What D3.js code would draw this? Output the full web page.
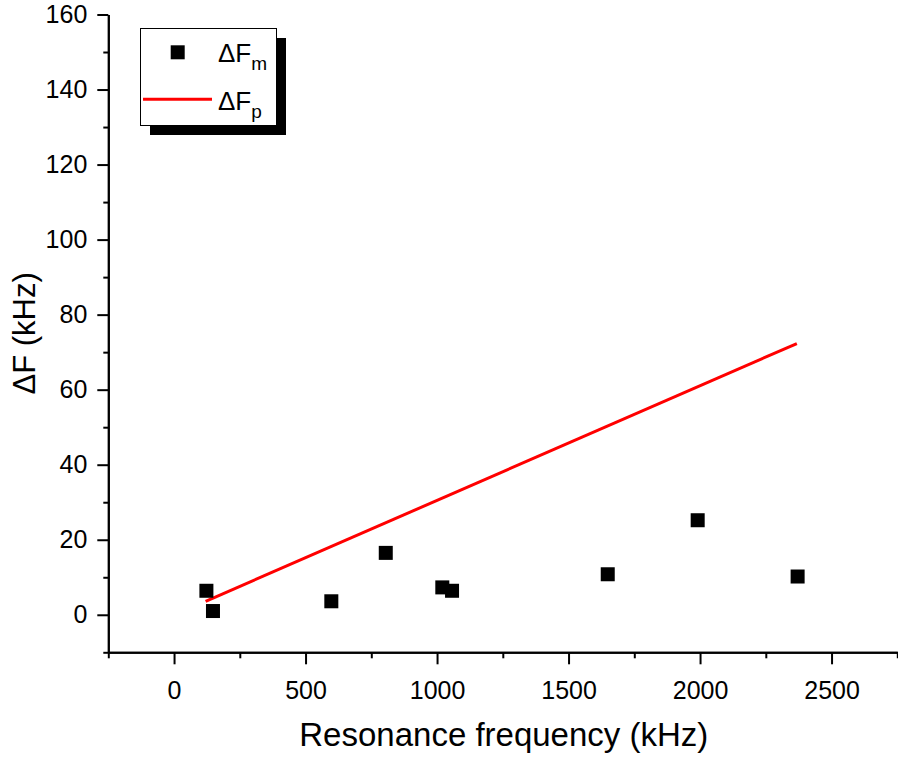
<!DOCTYPE html>
<html>
<head>
<meta charset="utf-8">
<script src="https://cdn.jsdelivr.net/npm/d3@7"></script>
<style>
  html, body { margin: 0; padding: 0; background: #fff; }
  svg text { font-family: "Liberation Sans", Arial, sans-serif; fill: #000; }
</style>
</head>
<body>
<svg id="chart" width="898" height="757"></svg>
<script>
// ---- data ----
const freqM = [123, 148, 598, 805, 1020, 1057, 1649, 1991, 2371];      // resonance frequency (kHz)
const deltaFm = [6.4, 1.0, 3.6, 16.5, 7.3, 6.4, 10.8, 25.2, 10.2];     // measured ΔF (kHz)
const freqP = [120, 2368];                                             // predicted line x (kHz)
const deltaFp = [3.6, 72.3];                                           // predicted ΔF (kHz)
const xMajorTicks = [0, 500, 1000, 1500, 2000, 2500];
const xMinorTicks = [-250, 250, 750, 1250, 1750, 2250, 2750];
const yMajorTicks = [0, 20, 40, 60, 80, 100, 120, 140, 160];
const yMinorTicks = [-10, 10, 30, 50, 70, 90, 110, 130, 150];
const xTitle = "Resonance frequency (kHz)";
const yTitle = "ΔF (kHz)";

const svg = d3.select("#chart");
const x = d3.scaleLinear().domain([-250, 2750]).range([108.3, 897.3]);
const y = d3.scaleLinear().domain([-10, 160]).range([652.3, 14.5]);

function styleAxis(g) {
  g.select(".domain").attr("stroke", "#000").attr("stroke-width", 2);
  g.selectAll(".tick line").attr("stroke", "#000").attr("stroke-width", 2);
  g.selectAll(".tick text").attr("font-size", 25).attr("font-family", "Liberation Sans, Arial, sans-serif");
}

// y axis
const yMinor = svg.append("g").attr("transform", `translate(${x(-250)},0)`)
  .call(d3.axisLeft(y).tickValues(yMinorTicks).tickSize(5).tickSizeOuter(0).tickFormat(""));
styleAxis(yMinor);
const yMajor = svg.append("g").attr("transform", `translate(${x(-250)},0)`)
  .call(d3.axisLeft(y).tickValues(yMajorTicks).tickSize(11).tickSizeOuter(0).tickPadding(10).tickFormat(d3.format("d")));
styleAxis(yMajor);

// x axis
const xMinor = svg.append("g").attr("transform", `translate(0,${y(-10)})`)
  .call(d3.axisBottom(x).tickValues(xMinorTicks).tickSize(6).tickSizeOuter(0).tickFormat(""));
styleAxis(xMinor);
const xMajor = svg.append("g").attr("transform", `translate(0,${y(-10)})`)
  .call(d3.axisBottom(x).tickValues(xMajorTicks).tickSize(12).tickSizeOuter(0).tickPadding(17).tickFormat(d3.format("d")));
styleAxis(xMajor);

// titles
svg.append("text")
  .attr("x", (x(-250) + x(2750)) / 2 + 1).attr("y", 746)
  .attr("text-anchor", "middle").attr("font-size", 33)
  .text(xTitle);
svg.append("text")
  .attr("transform", `translate(35,${(y(-10) + y(160)) / 2}) rotate(-90)`)
  .attr("text-anchor", "middle").attr("font-size", 31)
  .text(yTitle);

// predicted line
const line = d3.line().x(d => x(d[0])).y(d => y(d[1]));
svg.append("path")
  .datum(d3.zip(freqP, deltaFp))
  .attr("d", line)
  .attr("fill", "none").attr("stroke", "#ff0000").attr("stroke-width", 3);

// measured squares
const sz = 14;
svg.append("g").selectAll("rect")
  .data(d3.zip(freqM, deltaFm))
  .join("rect")
  .attr("x", d => x(d[0]) - sz / 2).attr("y", d => y(d[1]) - sz / 2)
  .attr("width", sz).attr("height", sz).attr("fill", "#000");

// legend
const lg = svg.append("g");
lg.append("rect").attr("x", 150).attr("y", 38).attr("width", 136).attr("height", 97).attr("fill", "#000");
lg.append("rect").attr("x", 140.5).attr("y", 28.5).attr("width", 136).attr("height", 97)
  .attr("fill", "#fff").attr("stroke", "#000").attr("stroke-width", 1);
lg.append("rect").attr("x", 177.7 - sz / 2).attr("y", 52.3 - sz / 2).attr("width", sz).attr("height", sz).attr("fill", "#000");
lg.append("line").attr("x1", 143).attr("x2", 212).attr("y1", 99.3).attr("y2", 99.3)
  .attr("stroke", "#ff0000").attr("stroke-width", 3);
const labels = [["ΔF", "m", 62], ["ΔF", "p", 109.5]];
labels.forEach(([main, sub, by]) => {
  const t = lg.append("text").attr("x", 218).attr("y", by).attr("font-size", 26);
  t.append("tspan").text(main);
  t.append("tspan").attr("font-size", 19).attr("dy", 8).text(sub);
});
</script>
</body>
</html>
